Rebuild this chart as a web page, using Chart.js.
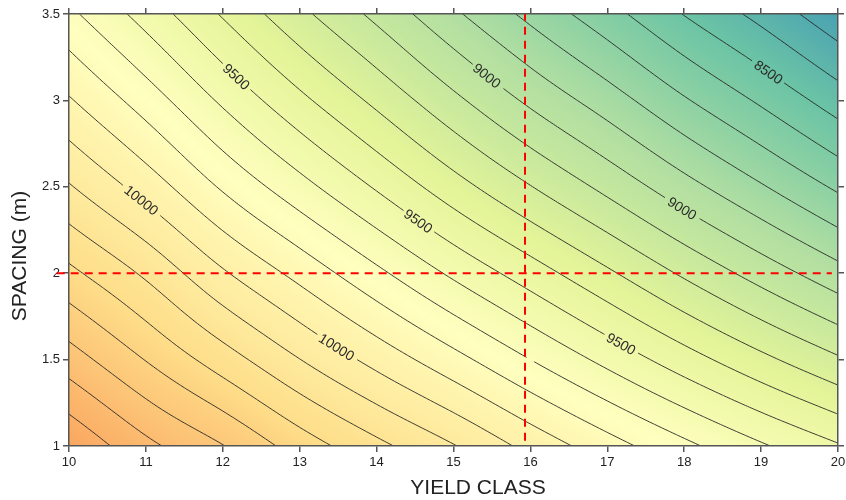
<!DOCTYPE html>
<html>
<head>
<meta charset="utf-8">
<script src="https://cdn.jsdelivr.net/npm/chart.js@4.4.1/dist/chart.umd.min.js"></script>
<style>
  html, body { margin: 0; padding: 0; background: #fff; }
  canvas { display: block; }
</style>
</head>
<body>
<canvas id="contourChart" width="846" height="500"></canvas>
<script>
// grid the surface is read on
const yieldClass = [10, 11, 12, 13, 14, 15, 16, 17, 18, 19, 20];
const spacing = [1, 1.5, 2, 2.5, 3, 3.5];

// values, one row per spacing
const volAt1_0 = [10790, 10628, 10504, 10355, 10227, 10106, 9969, 9843, 9725, 9613, 9510];
const volAt1_5 = [10548, 10396, 10249, 10102, 9966, 9834, 9700, 9571, 9445, 9326, 9214];
const volAt2_0 = [10325, 10182, 10013, 9868, 9723, 9581, 9449, 9317, 9184, 9058, 8937];
const volAt2_5 = [10109, 9957, 9787, 9636, 9489, 9342, 9204, 9072, 8937, 8810, 8683];
const volAt3_0 = [9910, 9753, 9583, 9425, 9276, 9124, 8980, 8849, 8711, 8584, 8451];
const volAt3_5 = [9722, 9560, 9390, 9226, 9074, 8918, 8773, 8637, 8496, 8369, 8230];
const volume = [volAt1_0, volAt1_5, volAt2_0, volAt2_5, volAt3_0, volAt3_5];

const contourLevels = [8300, 8400, 8500, 8600, 8700, 8800, 8900, 9000, 9100, 9200, 9300, 9400,
  9500, 9600, 9700, 9800, 9900, 10000, 10100, 10200, 10300, 10400, 10500, 10600, 10700];

// labelled contours (level and roughly where the label sits)
const labelLevels = [10000, 9500, 9000, 8500, 9500, 9000, 10000, 9500];
const labelX = [10.92, 12.16, 15.41, 19.06, 14.54, 17.98, 13.49, 17.19];
const labelY = [2.41, 3.13, 3.13, 3.14, 2.30, 2.38, 1.58, 1.60];

// red reference lines
const refYieldClass = 15.93;
const refSpacing = 2;
const refXRange = [9.84, 19.92];
const refYRange = [1.03, 3.5];

// colour ramp
const rampValues = [8200, 8500, 8900, 9350, 9750, 10300, 10800];
const rampColors = [[70, 158, 180], [108, 196, 165], [175, 222, 162], [228, 244, 152],
  [255, 255, 191], [254, 222, 138], [250, 165, 95]];

const FONT = "'Liberation Sans', Arial, sans-serif";

function gridValue(i, j) {
  const nx = yieldClass.length, ny = spacing.length;
  if (i < 0) return 2 * gridValue(0, j) - gridValue(1, j);
  if (i >= nx) return 2 * gridValue(nx - 1, j) - gridValue(nx - 2, j);
  if (j < 0) return 2 * gridValue(i, 0) - gridValue(i, 1);
  if (j >= ny) return 2 * gridValue(i, ny - 1) - gridValue(i, ny - 2);
  return volume[j][i];
}

function cubic(p0, p1, p2, p3, t) {
  return p1 + 0.5 * t * (p2 - p0 + t * (2 * p0 - 5 * p1 + 4 * p2 - p3 + t * (3 * (p1 - p2) + p3 - p0)));
}

function volumeAt(x, y) {
  const u = (x - yieldClass[0]) / (yieldClass[1] - yieldClass[0]);
  const v = (y - spacing[0]) / (spacing[1] - spacing[0]);
  const i = Math.min(Math.max(Math.floor(u), 0), yieldClass.length - 2);
  const j = Math.min(Math.max(Math.floor(v), 0), spacing.length - 2);
  const t = u - i, s = v - j;
  const col = [];
  for (let m = -1; m <= 2; m++) {
    col.push(cubic(gridValue(i - 1, j + m), gridValue(i, j + m), gridValue(i + 1, j + m), gridValue(i + 2, j + m), t));
  }
  return cubic(col[0], col[1], col[2], col[3], s);
}

function rampColor(z) {
  if (z <= rampValues[0]) return rampColors[0];
  for (let k = 1; k < rampValues.length; k++) {
    if (z <= rampValues[k]) {
      const f = (z - rampValues[k - 1]) / (rampValues[k] - rampValues[k - 1]);
      const a = rampColors[k - 1], b = rampColors[k];
      return [a[0] + (b[0] - a[0]) * f, a[1] + (b[1] - a[1]) * f, a[2] + (b[2] - a[2]) * f];
    }
  }
  return rampColors[rampColors.length - 1];
}

const contourPlugin = {
  id: "contourFill",
  beforeDraw(chart) {
    const { ctx, chartArea, scales } = chart;
    const xs = scales.x, ys = scales.y;
    const left = Math.round(chartArea.left), top = Math.round(chartArea.top);
    const w = Math.round(chartArea.right) - left, h = Math.round(chartArea.bottom) - top;

    // filled surface
    const img = ctx.createImageData(w, h);
    for (let py = 0; py < h; py++) {
      const yv = ys.getValueForPixel(top + py + 0.5);
      for (let px = 0; px < w; px++) {
        const xv = xs.getValueForPixel(left + px + 0.5);
        const c = rampColor(volumeAt(xv, yv));
        const k = (py * w + px) * 4;
        img.data[k] = c[0];
        img.data[k + 1] = c[1];
        img.data[k + 2] = c[2];
        img.data[k + 3] = 255;
      }
    }
    ctx.putImageData(img, left, top);

    const zPix = (px, py) => volumeAt(xs.getValueForPixel(px), ys.getValueForPixel(py));

    // label anchors, pulled onto their contour
    ctx.font = "14px " + FONT;
    const labels = labelLevels.map((level, n) => {
      let px = xs.getPixelForValue(labelX[n]);
      let py = ys.getPixelForValue(labelY[n]);
      let gx = 0, gy = 0;
      for (let it = 0; it < 10; it++) {
        gx = (zPix(px + 1, py) - zPix(px - 1, py)) / 2;
        gy = (zPix(px, py + 1) - zPix(px, py - 1)) / 2;
        const g2 = gx * gx + gy * gy;
        const d = level - zPix(px, py);
        px += d * gx / g2;
        py += d * gy / g2;
      }
      let angle = Math.atan2(gy, gx) + Math.PI / 2;
      if (angle > Math.PI / 2) angle -= Math.PI;
      if (angle < -Math.PI / 2) angle += Math.PI;
      const text = String(level);
      return { level, px, py, angle, text, half: ctx.measureText(text).width / 2 + 4 };
    });

    // contour lines by marching squares on a fine sampling
    const nx = 201, ny = 121;
    const gxv = [], gyv = [], f = [];
    for (let i = 0; i < nx; i++) gxv.push(xs.min + (xs.max - xs.min) * i / (nx - 1));
    for (let j = 0; j < ny; j++) gyv.push(ys.min + (ys.max - ys.min) * j / (ny - 1));
    for (let j = 0; j < ny; j++) {
      const row = [];
      for (let i = 0; i < nx; i++) row.push(volumeAt(gxv[i], gyv[j]));
      f.push(row);
    }
    const pxs = gxv.map((v) => xs.getPixelForValue(v));
    const pys = gyv.map((v) => ys.getPixelForValue(v));

    ctx.save();
    ctx.beginPath();
    ctx.rect(chartArea.left, chartArea.top, chartArea.right - chartArea.left, chartArea.bottom - chartArea.top);
    ctx.clip();
    ctx.strokeStyle = "rgba(30, 30, 30, 0.85)";
    ctx.lineWidth = 1;
    contourLevels.forEach((L) => {
      const myLabels = labels.filter((lb) => lb.level === L);
      ctx.beginPath();
      for (let j = 0; j < ny - 1; j++) {
        for (let i = 0; i < nx - 1; i++) {
          const a = f[j][i], b = f[j][i + 1], c = f[j + 1][i + 1], d = f[j + 1][i];
          const x0 = pxs[i], x1 = pxs[i + 1], y0 = pys[j], y1 = pys[j + 1];
          const pts = [];
          if ((a - L) * (b - L) < 0) pts.push([x0 + (x1 - x0) * (L - a) / (b - a), y0]);
          if ((b - L) * (c - L) < 0) pts.push([x1, y0 + (y1 - y0) * (L - b) / (c - b)]);
          if ((c - L) * (d - L) < 0) pts.push([x1 + (x0 - x1) * (L - c) / (d - c), y1]);
          if ((d - L) * (a - L) < 0) pts.push([x0, y1 + (y0 - y1) * (L - d) / (a - d)]);
          let segs = [];
          if (pts.length === 2) segs = [[pts[0], pts[1]]];
          else if (pts.length === 4) {
            const centre = (a + b + c + d) / 4;
            if ((centre - L) * (a - L) > 0) segs = [[pts[0], pts[1]], [pts[2], pts[3]]];
            else segs = [[pts[0], pts[3]], [pts[1], pts[2]]];
          }
          segs.forEach((sg) => {
            const mx = (sg[0][0] + sg[1][0]) / 2, my = (sg[0][1] + sg[1][1]) / 2;
            const hidden = myLabels.some((lb) => Math.hypot(mx - lb.px, my - lb.py) < lb.half);
            if (hidden) return;
            ctx.moveTo(sg[0][0], sg[0][1]);
            ctx.lineTo(sg[1][0], sg[1][1]);
          });
        }
      }
      ctx.stroke();
    });

    // contour labels
    ctx.fillStyle = "#2a2a2a";
    ctx.font = "14px " + FONT;
    ctx.textAlign = "center";
    ctx.textBaseline = "middle";
    labels.forEach((lb) => {
      ctx.save();
      ctx.translate(lb.px, lb.py);
      ctx.rotate(lb.angle);
      ctx.fillText(lb.text, 0, 1);
      ctx.restore();
    });
    ctx.restore();
  },
  afterDraw(chart) {
    const ctx = chart.ctx;
    ctx.save();
    ctx.fillStyle = "#222";
    ctx.font = "21px " + FONT;
    ctx.textAlign = "center";
    ctx.textBaseline = "middle";
    ctx.fillText("YIELD CLASS", 478, 488);
    ctx.translate(20, 256);
    ctx.rotate(-Math.PI / 2);
    ctx.fillText("SPACING (m)", 0, 0);
    ctx.restore();
  },
};

const axisGrid = { drawOnChartArea: false, tickLength: 6, color: "#555", lineWidth: 1.5 };
const axisBorder = { color: "#555", width: 1.5 };
const tickFont = { family: FONT, size: 13 };

// fix each axis box so the plot area lands where the reference has it
function fixBox(size) {
  return function (s) {
    if (s.isHorizontal()) s.height = size;
    else s.width = size;
    s.paddingLeft = 0;
    s.paddingRight = 0;
    s.paddingTop = 0;
    s.paddingBottom = 0;
  };
}

new Chart(document.getElementById("contourChart"), {
  type: "scatter",
  data: {
    datasets: [
      {
        data: [{ x: refXRange[0], y: refSpacing }, { x: refXRange[1], y: refSpacing }],
        showLine: true,
        borderColor: "#ff0000",
        borderWidth: 2,
        borderDash: [8, 6],
        pointRadius: 0,
        clip: false,
      },
      {
        data: [{ x: refYieldClass, y: refYRange[0] }, { x: refYieldClass, y: refYRange[1] }],
        showLine: true,
        borderColor: "#ff0000",
        borderWidth: 2,
        borderDash: [8, 6],
        pointRadius: 0,
        clip: false,
      },
    ],
  },
  options: {
    responsive: false,
    animation: false,
    events: [],
    layout: { padding: 0, autoPadding: false },
    plugins: { legend: { display: false }, tooltip: { enabled: false } },
    scales: {
      x: {
        type: "linear", axis: "x", position: "bottom", min: 10, max: 20,
        ticks: { stepSize: 1, color: "#222", font: tickFont, padding: 3, callback: (v) => String(v) },
        grid: axisGrid, border: axisBorder,
        afterFit: fixBox(54),
      },
      xTop: {
        type: "linear", axis: "x", position: "top", min: 10, max: 20,
        ticks: { stepSize: 1, display: false },
        grid: axisGrid, border: axisBorder,
        afterFit: fixBox(14),
      },
      y: {
        type: "linear", axis: "y", position: "left", min: 1, max: 3.5,
        ticks: { stepSize: 0.5, color: "#222", font: tickFont, padding: 3, callback: (v) => String(v) },
        grid: axisGrid, border: axisBorder,
        afterFit: fixBox(69),
      },
      yRight: {
        type: "linear", axis: "y", position: "right", min: 1, max: 3.5,
        ticks: { stepSize: 0.5, display: false },
        grid: axisGrid, border: axisBorder,
        afterFit: fixBox(8),
      },
    },
  },
  plugins: [contourPlugin],
});
</script>
</body>
</html>
